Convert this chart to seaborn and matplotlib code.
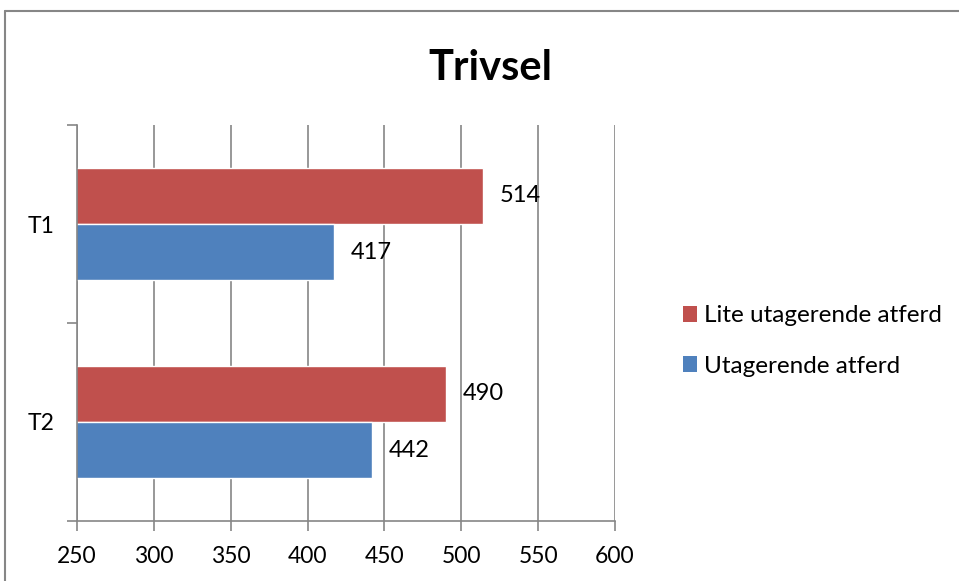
import numpy as np
import pandas as pd
import seaborn as sns
import matplotlib.pyplot as plt
from matplotlib.lines import Line2D
from matplotlib.patches import Patch

categories = ["T1", "T2"]
series_names = ["Lite utagerende atferd", "Utagerende atferd"]
lite_values = [514, 490]
utag_values = [417, 442]
x_ticks = [250, 300, 350, 400, 450, 500, 550, 600]

RED = "#C0504D"
BLUE = "#4F81BD"
GRID = "#868686"

df = pd.DataFrame({
    "kategori": categories * 2,
    "gruppe": [series_names[0]] * 2 + [series_names[1]] * 2,
    "verdi": lite_values + utag_values,
})

sns.set_theme(style="white")
plt.rcParams["font.family"] = ["Lato", "DejaVu Sans"]
plt.rcParams["text.color"] = "black"
plt.rcParams["xtick.labelcolor"] = "black"
plt.rcParams["ytick.labelcolor"] = "black"

fig = plt.figure(figsize=(9.59, 5.81), dpi=100)
ax = fig.add_axes([77 / 959, 1 - 521 / 581, (615 - 77) / 959, (521 - 125) / 581])

sns.barplot(
    data=df, y="kategori", x="verdi", hue="gruppe",
    hue_order=series_names, order=categories,
    palette=[RED, BLUE], orient="h", width=0.57,
    saturation=1, ax=ax, legend=False,
)

ax.set_xlim(250, 600)
ax.set_ylim(1.5, -0.5)
ax.set_xticks(x_ticks)
ax.set_xticklabels([str(t) for t in x_ticks], fontsize=16.5, color="black")
ax.set_xlabel("")
ax.set_ylabel("")
ax.xaxis.grid(True, color=GRID, linewidth=1.2)
ax.set_axisbelow(True)

ax.set_yticks([0, 1])
ax.set_yticklabels(categories, fontsize=16.5, color="black")
ax.set_yticks([-0.5, 0.5, 1.5], minor=True)
ax.tick_params(axis="y", which="major", length=0, pad=16)
ax.tick_params(axis="y", which="minor", length=7, color=GRID, width=1.2, left=True)
ax.tick_params(axis="x", length=7, color=GRID, width=1.2, bottom=True, pad=11)

for side in ["top", "right"]:
    ax.spines[side].set_visible(False)
for side in ["left", "bottom"]:
    ax.spines[side].set_color(GRID)
    ax.spines[side].set_linewidth(1.2)

for cont in ax.containers:
    ax.bar_label(cont, padding=12, fontsize=17, color="black")

fig.text(490 / 959, 1 - 68 / 581, "Trivsel", fontsize=30, fontweight="bold",
         ha="center", va="center", color="black")

handles = [Patch(facecolor=RED, edgecolor="none"), Patch(facecolor=BLUE, edgecolor="none")]
fig.legend(handles, series_names, loc="center left",
           bbox_to_anchor=(661 / 959, 1 - 341 / 581), frameon=False,
           fontsize=17.5, handlelength=0.6, handleheight=0.6, handletextpad=0.25,
           labelspacing=1.2)

# outer chart frame
fig.add_artist(Line2D([5 / 959, 1.0], [1 - 11 / 581, 1 - 11 / 581], color=GRID, linewidth=1.5))
fig.add_artist(Line2D([5 / 959, 5 / 959], [0.0, 1 - 11 / 581], color=GRID, linewidth=1.5))

fig.savefig("out.png", dpi=100)
